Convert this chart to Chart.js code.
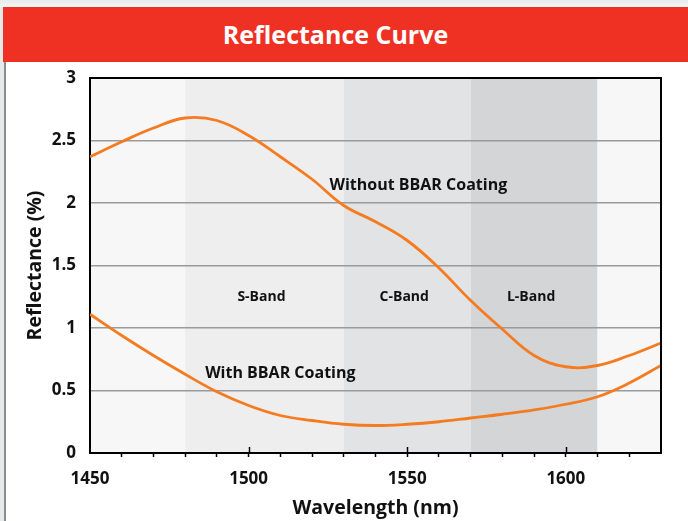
<!DOCTYPE html>
<html>
<head>
<meta charset="utf-8">
<script src="https://cdn.jsdelivr.net/npm/chart.js@4.4.1/dist/chart.umd.min.js"></script>
<style>
  html, body { margin: 0; padding: 0; width: 688px; height: 521px; overflow: hidden; background: #fff; }
  #strip { position: absolute; left: 0; top: 0; width: 688px; height: 7px; background: linear-gradient(#e8ebeb, #f3f4f4); }
  #side { position: absolute; left: 0; top: 7px; width: 4px; height: 514px; background: #e6e9e9; }
  #edge { position: absolute; left: 4px; top: 62px; width: 2px; height: 459px; background: #8c8c8c; }
  #head { position: absolute; left: 3px; top: 7px; width: 685px; height: 55px; background: #ef3124; }
  #head div { width: 665px; text-align: center; color: #fff; font: bold 25px "Open Sans", sans-serif; line-height: 55px; }
  #wrap { position: absolute; left: 0; top: 0; width: 688px; height: 521px; }
</style>
</head>
<body>
<div id="strip"></div>
<div id="side"></div>
<div id="head"><div>Reflectance Curve</div></div>
<div id="edge"></div>
<div id="wrap"><canvas id="chart"></canvas></div>
<script>
// wavelength (nm) samples, every 10 nm
const wavelengths = [1450, 1460, 1470, 1480, 1490, 1500, 1510, 1520, 1530, 1540,
                     1550, 1560, 1570, 1580, 1590, 1600, 1610, 1620, 1630];
const withoutBbar = [2.37, 2.49, 2.60, 2.68, 2.66, 2.54, 2.37, 2.19, 1.98, 1.85,
                     1.70, 1.48, 1.22, 0.99, 0.78, 0.69, 0.70, 0.78, 0.88];
const withBbar    = [1.11, 0.94, 0.78, 0.63, 0.49, 0.38, 0.30, 0.26, 0.23, 0.22,
                     0.23, 0.25, 0.28, 0.31, 0.345, 0.39, 0.45, 0.56, 0.70];

// shaded bands: start / end wavelength, label
const bandStarts = [1450, 1480, 1530, 1570, 1610];
const bandEnds   = [1480, 1530, 1570, 1610, 1630];
const bandNames  = ['', 'S-Band', 'C-Band', 'L-Band', ''];
const bandColors = ['#f7f7f7', '#eeeeee', '#e2e3e4', '#d4d5d7', '#f7f7f7'];

const xTickLabels = [1450, 1500, 1550, 1600];

const FONT = '"Open Sans", sans-serif';
const ORANGE = '#f47b20';

const toPoints = (ys) => wavelengths.map((x, i) => ({ x: x, y: ys[i] }));

const bandsPlugin = {
  id: 'bands',
  beforeDraw(chart) {
    const { ctx, chartArea: a, scales: { x } } = chart;
    ctx.save();
    bandStarts.forEach((s, i) => {
      const x0 = x.getPixelForValue(s), x1 = x.getPixelForValue(bandEnds[i]);
      ctx.fillStyle = bandColors[i];
      ctx.fillRect(x0, a.top, x1 - x0, a.bottom - a.top);
    });
    ctx.restore();
  }
};

const extrasPlugin = {
  id: 'extras',
  afterDraw(chart) {
    const { ctx, chartArea: a, scales: { x, y } } = chart;
    ctx.save();
    // frame top + right
    ctx.strokeStyle = '#000';
    ctx.lineWidth = 2;
    ctx.beginPath();
    ctx.moveTo(a.left, a.top);
    ctx.lineTo(a.right, a.top);
    ctx.lineTo(a.right, a.bottom);
    ctx.stroke();
    // major ticks poke into the plot a little
    ctx.lineWidth = 1.5;
    xTickLabels.forEach(v => {
      if (v === 1450) return;
      const px = Math.round(x.getPixelForValue(v)) + 0.5;
      ctx.beginPath();
      ctx.moveTo(px, a.bottom);
      ctx.lineTo(px, a.bottom - 6);
      ctx.stroke();
    });
    // band labels
    ctx.fillStyle = '#111';
    ctx.font = 'bold 14px ' + FONT;
    ctx.textAlign = 'center';
    ctx.textBaseline = 'middle';
    bandNames.forEach((n, i) => {
      if (!n) return;
      const cx = x.getPixelForValue((bandStarts[i] + bandEnds[i]) / 2) - 3;
      ctx.fillText(n, cx, y.getPixelForValue(1.25));
    });
    // curve labels
    ctx.font = 'bold 16px ' + FONT;
    ctx.fillText('Without BBAR Coating', x.getPixelForValue(1553.5), y.getPixelForValue(2.14));
    ctx.fillText('With BBAR Coating', x.getPixelForValue(1510), y.getPixelForValue(0.64));
    ctx.restore();
  }
};

new Chart(document.getElementById('chart'), {
  type: 'line',
  data: {
    datasets: [
      { label: 'Without BBAR Coating', data: toPoints(withoutBbar), borderColor: ORANGE, borderWidth: 2.8, pointRadius: 0, tension: 0.4, fill: false },
      { label: 'With BBAR Coating', data: toPoints(withBbar), borderColor: ORANGE, borderWidth: 2.8, pointRadius: 0, tension: 0.4, fill: false }
    ]
  },
  options: {
    responsive: true,
    maintainAspectRatio: false,
    animation: false,
    events: [],
    layout: { padding: { left: 0, top: 78, right: 27, bottom: 0 } },
    plugins: { legend: { display: false }, tooltip: { enabled: false } },
    scales: {
      x: {
        type: 'linear',
        min: 1450,
        max: 1630,
        afterFit(s) { s.height = 68; },
        afterBuildTicks(s) {
          s.ticks = wavelengths.map(v => ({ value: v }));
        },
        ticks: {
          autoSkip: false,
          maxRotation: 0,
          padding: 12,
          color: '#111',
          font: { family: FONT, size: 17, weight: 'bold' },
          callback: v => xTickLabels.includes(v) ? String(v) : ''
        },
        grid: {
          drawOnChartArea: false,
          tickLength: 4,
          tickWidth: 1.5,
          tickColor: c => (c.tick && (c.tick.value === 1450 || c.tick.value === 1630)) ? 'rgba(0,0,0,0)' : '#000'
        },
        border: { display: true, color: '#000', width: 2 },
        title: {
          display: true,
          text: 'Wavelength (nm)',
          color: '#111',
          font: { family: FONT, size: 19.5, weight: 'bold' },
          padding: { top: 0, bottom: 1 }
        }
      },
      y: {
        min: 0,
        max: 3,
        afterFit(s) { s.width = 90; },
        ticks: {
          stepSize: 0.5,
          padding: 14,
          color: '#111',
          font: { family: FONT, size: 17, weight: 'bold' },
          callback: v => String(Number(v.toFixed(1)))
        },
        grid: {
          drawTicks: false,
          lineWidth: 1.5,
          color: c => (c.tick && (c.tick.value === 0 || c.tick.value === 3)) ? 'rgba(0,0,0,0)' : '#9a9a9a'
        },
        border: { display: true, color: '#000', width: 2 },
        title: {
          display: true,
          text: 'Reflectance (%)',
          color: '#111',
          font: { family: FONT, size: 19.5, weight: 'bold' },
          padding: { top: 24, bottom: 0 }
        }
      }
    }
  },
  plugins: [bandsPlugin, extrasPlugin]
});
</script>
</body>
</html>
